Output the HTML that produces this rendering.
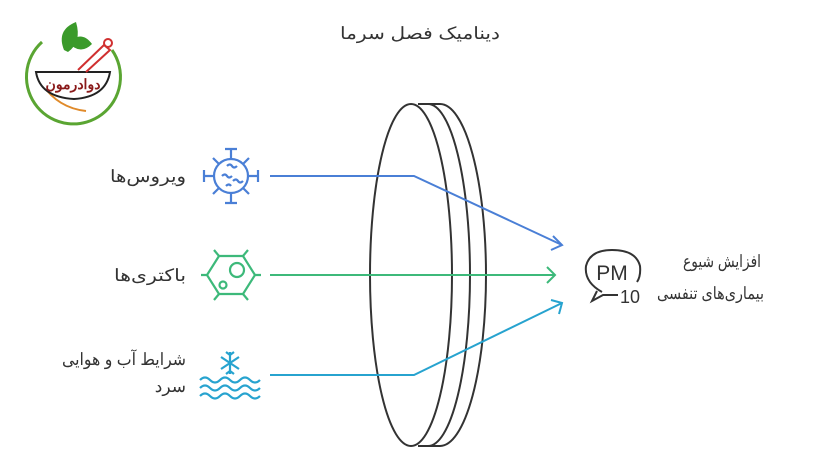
<!DOCTYPE html>
<html><head><meta charset="utf-8"><style>
body{margin:0;width:828px;height:466px;background:#fff;overflow:hidden;font-family:"Liberation Sans","Noto Sans CJK SC",sans-serif}
</style></head><body>
<svg width="828" height="466" viewBox="0 0 828 466" xmlns="http://www.w3.org/2000/svg" font-family="Liberation Sans, Noto Sans CJK SC, sans-serif">
<!-- logo -->
<path d="M42 42 A47 47 0 1 0 112 50" fill="none" stroke="#5aa532" stroke-width="3"/>
<path d="M42 84 Q58 108 86 111" fill="none" stroke="#e08a2a" stroke-width="2"/>
<path d="M36 72 L110 72 Q106 97 74 99 Q40 97 36 72Z" fill="#fff" stroke="#222" stroke-width="2"/>
<path d="M64 50 Q56 30 76 22 Q82 42 68 52Z M68 42 Q82 30 92 44 Q80 56 68 42Z" fill="#3a9a2a"/>
<path d="M78 70 L104 45 L110 50 L86 72" fill="none" stroke="#d03030" stroke-width="2"/>
<circle cx="108" cy="43" r="4" fill="none" stroke="#d03030" stroke-width="2"/>
<text x="73" y="89" font-size="14" fill="#8a1a1a" text-anchor="middle" font-weight="bold">دوادرمون</text>
<!-- title -->
<text x="500" y="39" font-size="17" fill="#333" text-anchor="end" textLength="160" lengthAdjust="spacingAndGlyphs">دینامیک فصل سرما</text>
<!-- lens -->
<g fill="none" stroke="#333" stroke-width="2">
<ellipse cx="411" cy="275" rx="41" ry="171"/>
<path d="M418 104 L440 104 A46 171 0 0 1 440 446 L418 446"/>
<path d="M428 104 A42 171 0 0 1 428 446"/>
</g>
<!-- connectors -->
<g fill="none" stroke-width="2">
<path d="M270 176 L414 176 L562 245" stroke="#4a7fd6"/>
<path d="M553 236 L562 245 L551 250" stroke="#4a7fd6"/>
<path d="M270 275 L555 275" stroke="#3db97a"/>
<path d="M547 267 L555 275 L547 283" stroke="#3db97a"/>
<path d="M270 375 L414 375 L562 303" stroke="#27a3cf"/>
<path d="M551 300 L562 303 L559 314" stroke="#27a3cf"/>
</g>
<!-- virus icon -->
<g fill="none" stroke="#4a7fd6" stroke-width="2.2">
<circle cx="231" cy="176" r="17"/>
<path d="M231 159v-10M225 149h12M231 193v10M225 203h12M214 176h-10M204 170v12M248 176h10M258 170v12M219 164l-6-6M243 164l6-6M219 188l-6 6M243 188l6 6"/>
<path d="M227 166q3-3 5 0t5 0M222 176q3-3 5 0t5 0M233 181q3-3 5 0t5 0M226 186q3-3 5 0"/>
</g>
<!-- bacteria -->
<g fill="none" stroke="#3db97a" stroke-width="2.2">
<path d="M219 256 L243 256 L255 275 L243 294 L219 294 L207 275Z"/>
<path d="M201 275h6M255 275h6M219 256l-5-6M243 256l5-6M219 294l-5 6M243 294l5 6"/>
<circle cx="237" cy="270" r="7"/><circle cx="223" cy="285" r="3.5"/>
</g>
<!-- snow -->
<g fill="none" stroke="#27a3cf" stroke-width="2.2">
<path d="M230 352v22M221 357l18 12M239 357l-18 12M226 352l4 3 4-3M226 374l4-3 4 3"/>
<path d="M200 380q5-5 10 0t10 0 10 0 10 0 10 0 10 0M200 388q5-5 10 0t10 0 10 0 10 0 10 0 10 0M200 396q5-5 10 0t10 0 10 0 10 0 10 0 10 0"/>
</g>
<!-- labels -->
<g font-size="17" fill="#333" text-anchor="end" lengthAdjust="spacingAndGlyphs">
<text x="186" y="182" textLength="76" lengthAdjust="spacingAndGlyphs">ویروس‌ها</text>
<text x="186" y="281" textLength="72" lengthAdjust="spacingAndGlyphs">باکتری‌ها</text>
<text x="186" y="365" textLength="124" lengthAdjust="spacingAndGlyphs">شرایط آب و هوایی</text>
<text x="186" y="392">سرد</text>
</g>
<!-- PM icon -->
<g fill="none" stroke="#333" stroke-width="2">
<path d="M602 292 Q584 282 586 266 Q590 250 612 250 Q636 250 640 266 Q641 276 637 282 M618 295 L603 295 L592 301 L597 291"/>
</g>
<text x="612" y="280" font-size="21" fill="#333" text-anchor="middle">PM</text>
<text x="620" y="303" font-size="18" fill="#333" textLength="20" lengthAdjust="spacingAndGlyphs">10</text>
<g font-size="17" fill="#333" text-anchor="end">
<text x="761" y="267" textLength="78" lengthAdjust="spacingAndGlyphs">افزایش شیوع</text>
<text x="764" y="299" textLength="107" lengthAdjust="spacingAndGlyphs">بیماری‌های تنفسی</text>
</g>
</svg>
</body></html>
